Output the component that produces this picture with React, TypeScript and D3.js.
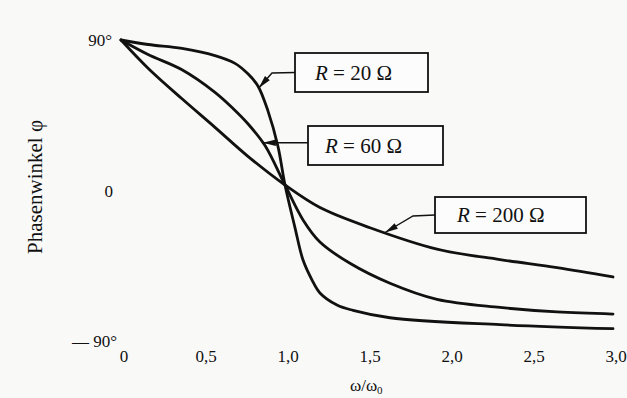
import React, { useEffect, useRef } from 'react';
import * as d3 from 'd3';

const width = 627;
const height = 398;
const ink = '#111';

// x = omega / omega0, phase angle in degrees
const xTicks = [0, 0.5, 1.0, 1.5, 2.0, 2.5, 3.0];
const xTickLabels = ['0', '0,5', '1,0', '1,5', '2,0', '2,5', '3,0'];
const yTicks = [90, 0, -90];
const yTickLabels = ['90°', '0', '— 90°'];

const r20X = [0, 0.165, 0.372, 0.573, 0.695, 0.774, 0.835, 0.896, 0.957, 1.0, 1.06, 1.11, 1.165, 1.213, 1.317, 1.415, 1.64, 2.311, 3.0];
const r20Phi = [90, 87.2, 84.8, 80.3, 75.5, 69.0, 61.5, 46.0, 24.0, 0, -26.1, -46.6, -59.0, -67.0, -74.5, -77.8, -82.4, -86.7, -89.2];

const r60X = [0, 0.165, 0.372, 0.573, 0.683, 0.774, 0.878, 1.0, 1.11, 1.213, 1.396, 1.64, 1.927, 2.311, 2.659, 3.0];
const r60Phi = [90, 81.0, 71.5, 57.5, 47.5, 38.0, 24.5, 0, -21.7, -35.4, -48.6, -61.0, -71.0, -76.0, -78.8, -80.1];

const r200X = [0, 0.165, 0.372, 0.573, 0.774, 1.0, 1.213, 1.518, 1.927, 2.311, 2.659, 3.0];
const r200Phi = [90, 72.5, 53.5, 35.8, 17.8, 0, -14.0, -26.5, -39.8, -46.3, -51.3, -57.1];

const seriesNames = ['20', '60', '200'];
const seriesX = [r20X, r60X, r200X];
const seriesPhi = [r20Phi, r60Phi, r200Phi];

// where each label's arrow touches its curve (in omega/omega0)
const arrowAt = [0.84, 0.865, 1.61];

export default function App() {
  const ref = useRef<SVGSVGElement | null>(null);

  useEffect(() => {
    const svg = d3.select(ref.current);
    svg.selectAll('*').remove();

    const x = d3.scaleLinear().domain([0, 3]).range([121, 613]);
    const y = d3.scaleLinear().domain([-90, 90]).range([330, 40]);

    svg.append('rect').attr('width', width).attr('height', height).attr('fill', '#f9f9f8');

    const line = d3
      .line<[number, number]>()
      .x((d) => x(d[0]))
      .y((d) => y(d[1]))
      .curve(d3.curveCatmullRom.alpha(0.5));

    seriesX.forEach((xs, i) => {
      const pts = xs.map((v, j) => [v, seriesPhi[i][j]] as [number, number]);
      svg
        .append('path')
        .attr('d', line(pts))
        .attr('fill', 'none')
        .attr('stroke', ink)
        .attr('stroke-width', 2.8)
        .attr('stroke-linejoin', 'round')
        .attr('stroke-linecap', 'round');
    });

    // tick labels
    const font = "'Liberation Serif', 'Times New Roman', Times, serif";
    svg
      .selectAll('text.xt')
      .data(xTicks)
      .join('text')
      .attr('class', 'xt')
      .attr('x', (d) => x(d) + 3)
      .attr('y', 362)
      .attr('text-anchor', 'middle')
      .style('font-family', font)
      .attr('font-size', 17)
      .attr('fill', ink)
      .text((d, i) => xTickLabels[i]);

    const yLabelPos = [
      { dy: 6, ax: 112 },
      { dy: 12, ax: 113 },
      { dy: 17, ax: 117 },
    ];
    svg
      .selectAll('text.yt')
      .data(yTicks)
      .join('text')
      .attr('class', 'yt')
      .attr('x', (d, i) => yLabelPos[i].ax)
      .attr('y', (d, i) => y(d) + yLabelPos[i].dy)
      .attr('text-anchor', 'end')
      .style('font-family', font)
      .attr('font-size', 17)
      .attr('fill', ink)
      .text((d, i) => yTickLabels[i]);

    // axis titles
    const xt = svg
      .append('text')
      .attr('x', 350)
      .attr('y', 391)
      .style('font-family', font)
      .attr('font-size', 17)
      .attr('fill', ink);
    xt.append('tspan').text('ω/ω');
    xt.append('tspan').attr('font-size', 11).attr('dy', 3).text('0');

    svg
      .append('text')
      .attr('transform', 'translate(42,187) rotate(-90)')
      .attr('text-anchor', 'middle')
      .style('font-family', font)
      .attr('font-size', 21)
      .attr('fill', ink)
      .text('Phasenwinkel φ');

    // labelled boxes with leader arrows
    const boxes = [
      { bx: 295, by: 53, bw: 133, bh: 39, tx: 315, elbow: [272, 73] },
      { bx: 308, by: 126, bw: 135, bh: 39, tx: 325, elbow: null },
      { bx: 435, by: 197, bw: 151, bh: 36, tx: 457, elbow: [413, 216] },
    ];

    boxes.forEach((b, i) => {
      const ax = arrowAt[i];
      const phi = d3.scaleLinear().domain(seriesX[i]).range(seriesPhi[i])(ax);
      const tip: [number, number] = [x(ax), y(phi)];
      const midY = b.by + b.bh / 2;
      const pts: [number, number][] = b.elbow
        ? [tip, b.elbow as [number, number], [b.bx, midY]]
        : [tip, [b.bx, tip[1]]];

      svg
        .append('path')
        .attr('d', d3.line()(pts))
        .attr('fill', 'none')
        .attr('stroke', ink)
        .attr('stroke-width', 1.4);

      // arrowhead
      const nx = pts[1][0] - tip[0];
      const ny = pts[1][1] - tip[1];
      const len = Math.hypot(nx, ny);
      const ux = nx / len;
      const uy = ny / len;
      const L = 13;
      const W = 3.2;
      const head: [number, number][] = [
        tip,
        [tip[0] + ux * L - uy * W, tip[1] + uy * L + ux * W],
        [tip[0] + ux * L + uy * W, tip[1] + uy * L - ux * W],
      ];
      svg
        .append('path')
        .attr('d', d3.line()(head) + 'Z')
        .attr('fill', ink);

      svg
        .append('rect')
        .attr('x', b.bx)
        .attr('y', b.by)
        .attr('width', b.bw)
        .attr('height', b.bh)
        .attr('fill', '#fcfcfc')
        .attr('stroke', ink)
        .attr('stroke-width', 1.8);

      const t = svg
        .append('text')
        .attr('x', b.tx)
        .attr('y', b.by + b.bh / 2 + 7)
        .style('font-family', font)
        .attr('font-size', 21)
        .attr('fill', ink);
      t.append('tspan').attr('font-style', 'italic').text('R');
      t.append('tspan').text(` = ${seriesNames[i]} Ω`);
    });
  }, []);

  return (
    <svg
      ref={ref}
      width={width}
      height={height}
      style={{ position: 'absolute', left: 0, top: 0 }}
    />
  );
}
